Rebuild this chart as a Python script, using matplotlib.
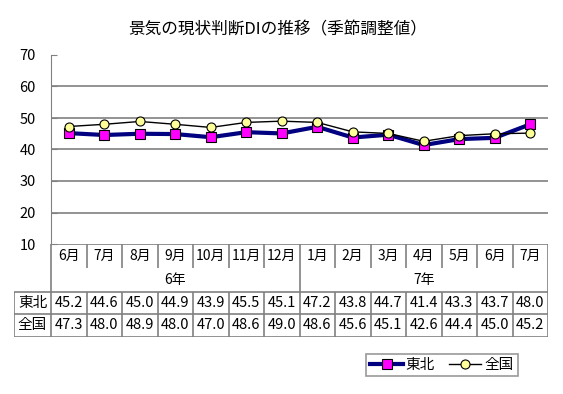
import matplotlib.pyplot as plt
from matplotlib.lines import Line2D

plt.rcParams['font.family'] = ['Noto Sans CJK JP', 'DejaVu Sans']

months = ['6月', '7月', '8月', '9月', '10月', '11月', '12月',
          '1月', '2月', '3月', '4月', '5月', '6月', '7月']
years = ['6年', '7年']
year_span = [7, 7]
tohoku = [45.2, 44.6, 45.0, 44.9, 43.9, 45.5, 45.1, 47.2, 43.8, 44.7, 41.4, 43.3, 43.7, 48.0]
zenkoku = [47.3, 48.0, 48.9, 48.0, 47.0, 48.6, 49.0, 48.6, 45.6, 45.1, 42.6, 44.4, 45.0, 45.2]
series_names = ['東北', '全国']

W, H = 563, 394
fig = plt.figure(figsize=(W / 100, H / 100), dpi=100)

# pixel layout
x0, x1 = 51, 548
top, bot = 55, 244
n = len(months)
colw = (x1 - x0) / n

ax = fig.add_axes([x0 / W, 1 - bot / H, (x1 - x0) / W, (bot - top) / H])
xs = list(range(n))
ax.plot(xs, tohoku, color='#000080', lw=3, marker='s', ms=6.5,
        mfc='#FF00FF', mec='#000000', mew=0.8, zorder=3)
ax.plot(xs, zenkoku, color='#000000', lw=1, marker='o', ms=6.5,
        mfc='#FFFF99', mec='#000000', mew=0.8, zorder=4)
ax.set_xlim(-0.5, n - 0.5)
ax.set_ylim(10, 70)
ax.set_yticks(range(10, 71, 10))
for v in range(20, 70, 10):
    ax.axhline(v, color='#808080', lw=1.2, zorder=1)
ax.set_xticks([])
for s in ['top', 'right', 'bottom']:
    ax.spines[s].set_visible(False)
ax.spines['left'].set_color('#808080')
ax.tick_params(axis='y', direction='in', length=4, color='#808080',
               labelsize=10.5, pad=11)

fig.text(278 / W, 1 - 30 / H, '景気の現状判断DIの推移（季節調整値）',
         ha='center', va='center', fontsize=12)

# table below the plot, in pixel y units and column x units
tx0, tbot = 14, 337
tab = fig.add_axes([tx0 / W, 1 - tbot / H, (x1 - tx0) / W, (tbot - bot) / H])
left = -0.5 - (x0 - tx0) / colw
tab.set_xlim(left, n - 0.5)
tab.set_ylim(tbot, bot)
tab.axis('off')
lc = '#808080'
lk = dict(color=lc, lw=1.2, solid_capstyle='butt')

r_month, r_year, r_a, r_b = 244, 292, 314, 337
# box for months and years
tab.plot([-0.5, n - 0.5], [r_month, r_month], **lk)
tab.plot([-0.5, -0.5], [r_month, r_year], **lk)
tab.plot([n - 0.5, n - 0.5], [r_month, r_b], **lk)
for i in range(1, n):
    if i == year_span[0]:
        tab.plot([i - 0.5, i - 0.5], [r_month, r_year], **lk)
    else:
        tab.plot([i - 0.5, i - 0.5], [r_month, 268], **lk)
for i, m in enumerate(months):
    tab.text(i, 256, m, ha='center', va='center', fontsize=10)
start = 0
for y, span in zip(years, year_span):
    tab.text(start + (span - 1) / 2, 280, y, ha='center', va='center', fontsize=10)
    start += span

# data rows
for yy in [r_year, r_a, r_b]:
    tab.plot([left, n - 0.5], [yy, yy], **lk)
tab.plot([left, left], [r_year, r_b], **lk)
for i in range(n):
    tab.plot([i - 0.5, i - 0.5], [r_year, r_b], **lk)
for (ya, yb), name, vals in zip([(r_year, r_a), (r_a, r_b)], series_names, [tohoku, zenkoku]):
    yc = (ya + yb) / 2
    tab.text((left - 0.5) / 2, yc, name, ha='center', va='center', fontsize=10.5)
    for i, v in enumerate(vals):
        tab.text(i, yc, f'{v:.1f}', ha='center', va='center', fontsize=10.5)

handles = [
    Line2D([], [], color='#000080', lw=3, marker='s', ms=6.5, mfc='#FF00FF', mec='#000000', mew=0.8),
    Line2D([], [], color='#000000', lw=1, marker='o', ms=6.5, mfc='#FFFF99', mec='#000000', mew=0.8),
]
leg = fig.legend(handles, series_names, loc='center', bbox_to_anchor=(442 / W, 1 - 365 / H),
                 ncol=2, fontsize=10.5, frameon=True, fancybox=False, handlelength=2.2,
                 handletextpad=0.2, columnspacing=1.0, borderpad=0.3)
leg.get_frame().set_edgecolor('#808080')
leg.get_frame().set_linewidth(1.2)

fig.savefig('out.png', dpi=100)
